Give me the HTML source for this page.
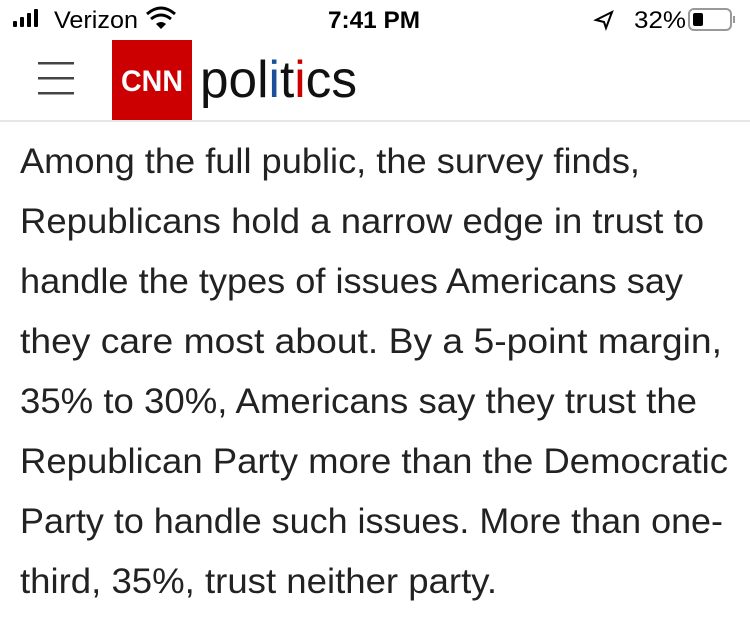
<!DOCTYPE html>
<html><head><meta charset="utf-8"><style>
html,body{margin:0;padding:0;background:#fff;width:750px;height:640px;overflow:hidden}
</style></head><body>
<svg width="750" height="640" xmlns="http://www.w3.org/2000/svg" font-family="Liberation Sans, sans-serif">
<rect width="750" height="640" fill="#fff"/>
<rect x="13" y="21" width="4" height="6" rx="1" fill="#000"/>
<rect x="20" y="17" width="4" height="10" rx="1" fill="#000"/>
<rect x="27" y="13" width="4" height="14" rx="1" fill="#000"/>
<rect x="34" y="9" width="4" height="18" rx="1" fill="#000"/>
<text x="54" y="28" font-size="24" fill="#000" textLength="84" lengthAdjust="spacingAndGlyphs">Verizon</text>
<path d="M147 14 q14 -12 28 0" stroke="#000" stroke-width="3" fill="none"/>
<path d="M151 19 q10 -8 20 0" stroke="#000" stroke-width="3" fill="none"/>
<path d="M156 24 l5 5 l5 -5 q-5 -4 -10 0z" fill="#000"/>
<text x="328" y="28" font-size="24" font-weight="bold" fill="#000" textLength="92" lengthAdjust="spacingAndGlyphs">7:41 PM</text>
<path d="M596 20 l16 -8 l-6 16 l-2 -6 z" stroke="#000" stroke-width="2" fill="none"/>
<text x="634" y="28" font-size="24" fill="#000" textLength="52" lengthAdjust="spacingAndGlyphs">32%</text>
<rect x="689" y="9" width="42" height="21" rx="5" fill="none" stroke="#999" stroke-width="2"/>
<rect x="693" y="13" width="10" height="13" rx="2" fill="#000"/>
<rect x="733" y="16" width="2" height="7" fill="#999"/>
<rect x="38" y="62" width="36" height="2.5" fill="#444"/>
<rect x="38" y="77" width="36" height="2.5" fill="#444"/>
<rect x="38" y="92" width="36" height="2.5" fill="#444"/>
<rect x="112" y="40" width="80" height="80" fill="#cc0000"/>
<text x="152" y="91" font-size="30" font-weight="bold" fill="#fff" text-anchor="middle" textLength="62" lengthAdjust="spacingAndGlyphs">CNN</text>
<text x="200" y="97" font-size="52" fill="#111" textLength="157" lengthAdjust="spacingAndGlyphs"><tspan>pol</tspan><tspan fill="#1a4f9c">i</tspan><tspan>t</tspan><tspan fill="#cc0000">i</tspan><tspan>cs</tspan></text>
<rect x="0" y="120" width="750" height="2" fill="#e6e6e6"/>
<g font-size="35" fill="#222" lengthAdjust="spacingAndGlyphs">
<text x="20" y="173" textLength="620" lengthAdjust="spacingAndGlyphs">Among the full public, the survey finds,</text>
<text x="20" y="233" textLength="684" lengthAdjust="spacingAndGlyphs">Republicans hold a narrow edge in trust to</text>
<text x="20" y="293" textLength="663" lengthAdjust="spacingAndGlyphs">handle the types of issues Americans say</text>
<text x="20" y="353" textLength="702" lengthAdjust="spacingAndGlyphs">they care most about. By a 5-point margin,</text>
<text x="20" y="413" textLength="677" lengthAdjust="spacingAndGlyphs">35% to 30%, Americans say they trust the</text>
<text x="20" y="473" textLength="708" lengthAdjust="spacingAndGlyphs">Republican Party more than the Democratic</text>
<text x="20" y="533" textLength="703" lengthAdjust="spacingAndGlyphs">Party to handle such issues. More than one-</text>
<text x="20" y="593" textLength="477" lengthAdjust="spacingAndGlyphs">third, 35%, trust neither party.</text>
</g>
</svg>
</body></html>
